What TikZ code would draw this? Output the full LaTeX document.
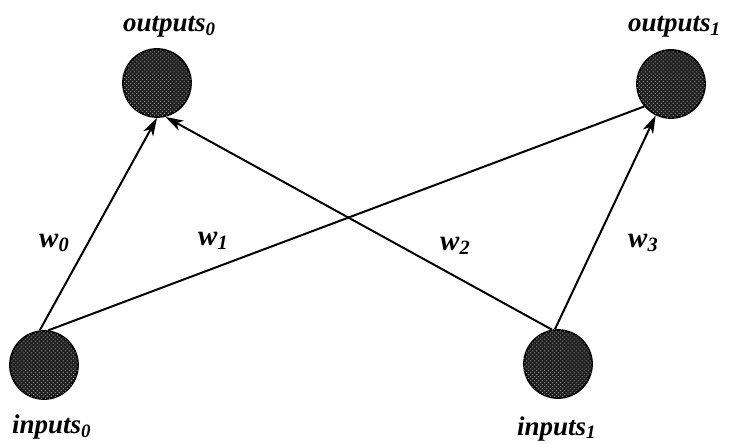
\documentclass[tikz,border=0pt]{standalone}
\usepackage{amsmath}
\usepackage{fontspec}
\setmainfont{Liberation Serif}
\usetikzlibrary{arrows.meta,patterns.meta}
\tikzset{
  unit/.style={circle, draw=black, line width=1.8pt, fill=black!88, minimum size=68pt, inner sep=0pt,
    postaction={pattern={Dots[radius=0.7pt, distance=2.8pt, angle=45]}, pattern color=black!45}},
  lbl/.style={anchor=base west, inner sep=0pt, font=\fontsize{27}{31}\selectfont\bfseries\itshape},
  wlbl/.style={anchor=base west, inner sep=0pt, font=\fontsize{29}{33}\selectfont\bfseries\itshape},
  conn/.style={line width=2pt, draw=black},
  arr/.style={conn, -{Stealth[length=18pt,width=11pt,inset=5pt]}}
}
\begin{document}
\begin{tikzpicture}[x=1pt,y=-1pt]
\useasboundingbox (0,0) rectangle (729,444);
\node[unit] (out0) at (157,83) {};
\node[unit] (out1) at (671,84) {};
\node[unit] (in0) at (44,365) {};
\node[unit] (in1) at (558,364) {};
\node[lbl] (lo0) at (123,32) {outputs$_{\textbf{\textit{0}}}$};
\node[lbl] (lo1) at (628,32) {outputs$_{\textbf{\textit{1}}}$};
\node[lbl] (li0) at (12,433) {inputs$_{\textbf{\textit{0}}}$};
\node[lbl] (li1) at (517,435) {inputs$_{\textbf{\textit{1}}}$};
\node[wlbl] (w0) at (39,247) {w$_{\textbf{\textit{0}}}$};
\node[wlbl] (w1) at (198,245) {w$_{\textbf{\textit{1}}}$};
\node[wlbl] (w2) at (440,250) {w$_{\textbf{\textit{2}}}$};
\node[wlbl] (w3) at (628,247) {w$_{\textbf{\textit{3}}}$};
\draw[arr] (in0.97) -- (out0.-90);
\draw[conn] (in0.83) -- (out1.220);
\draw[arr] (in1.100) -- (out0.-76);
\draw[arr] (in1.95) -- (out1.244);
\end{tikzpicture}
\end{document}
